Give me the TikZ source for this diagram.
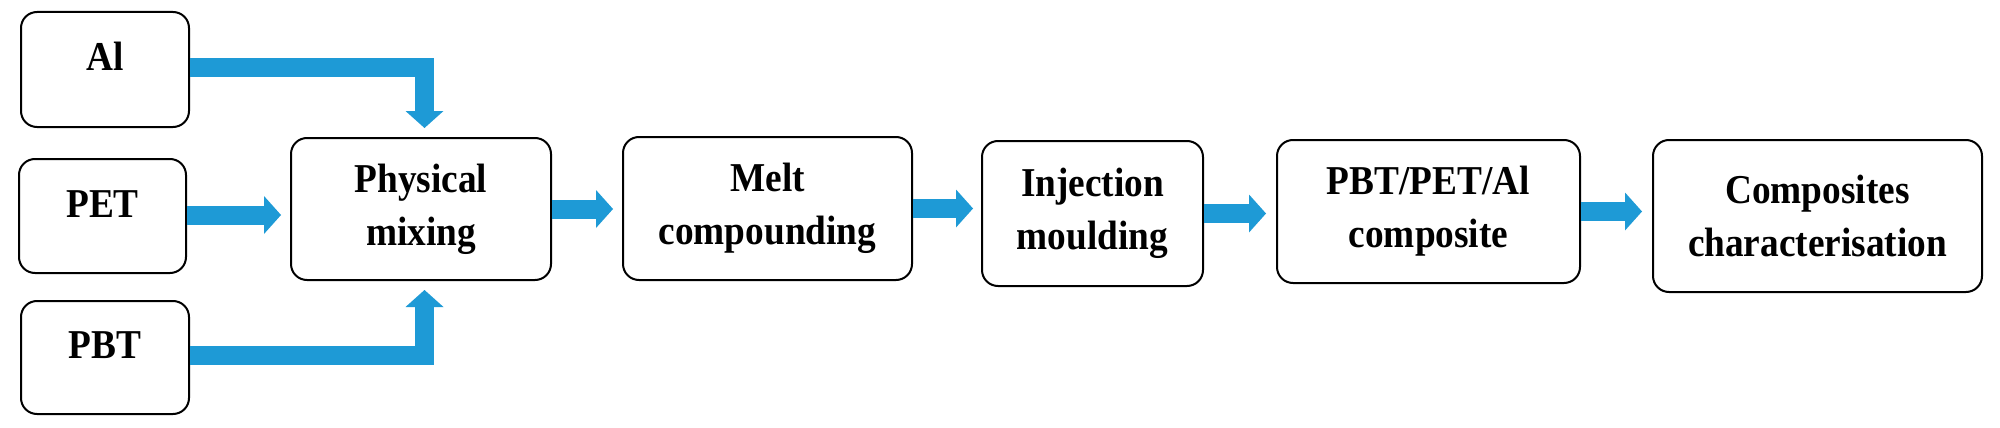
\documentclass[tikz,border=0pt]{standalone}
\usepackage{fontspec}
\setmainfont[FakeStretch=0.91]{Liberation Serif}
\usetikzlibrary{arrows.meta,calc}
\definecolor{arrblue}{RGB}{30,154,214}
\begin{document}
\begin{tikzpicture}[x=1pt,y=-1pt,
  box/.style={draw=black,line width=2pt,rounded corners=16pt,inner sep=0pt,
    align=center,font=\fontsize{41}{53}\selectfont\bfseries},
  single/.style={text height=28pt,text depth=26pt},
  flow/.style={draw=arrblue,line width=19pt,line join=miter,
    -{Triangle[length=17pt,width=38pt,line width=0pt]}}]
\useasboundingbox (0,0) rectangle (2000,428);
\fill[white] (0,0) rectangle (2000,428);
% input boxes
\node[box,single,minimum width=168pt,minimum height=115pt] (al)  at (105,69.5) {Al};
\node[box,single,minimum width=167pt,minimum height=114pt] (pet) at (102.5,216) {PET};
\node[box,single,minimum width=168pt,minimum height=113pt] (pbt) at (105,357.5) {PBT};
% process boxes
\node[box,minimum width=260pt,minimum height=142pt] (pm)   at (421,209) {Physical\\mixing};
\node[box,minimum width=289pt,minimum height=143pt] (melt) at (767.5,208.5) {Melt\\compounding};
\node[box,minimum width=221pt,minimum height=145pt] (inj)  at (1092.5,213.5) {Injection\\moulding};
\node[box,minimum width=303pt,minimum height=143pt] (comp) at (1428.5,211.5) {PBT/PET/Al\\composite};
\node[box,minimum width=329pt,minimum height=152pt] (char) at (1817.5,216) {Composites\\characterisation};
% connectors
\draw[flow] ([yshift=2pt]al.east) -| ([xshift=3.5pt,yshift=9pt]pm.north);
\draw[flow,shorten >=9pt] ([yshift=1pt]pet.east) -- ([yshift=1pt]pet.east -| pm.west);
\draw[flow] ([yshift=2.5pt]pbt.east) -| ([xshift=3.5pt,yshift=-9pt]pm.south);
\draw[flow,shorten >=9pt] (pm.east) -- (pm.east -| melt.west);
\draw[flow,shorten >=8pt] (melt.east) -- (melt.east -| inj.west);
\draw[flow,shorten >=10pt] (inj.east) -- (inj.east -| comp.west);
\draw[flow,shorten >=10pt] (comp.east) -- (comp.east -| char.west);
\end{tikzpicture}
\end{document}
